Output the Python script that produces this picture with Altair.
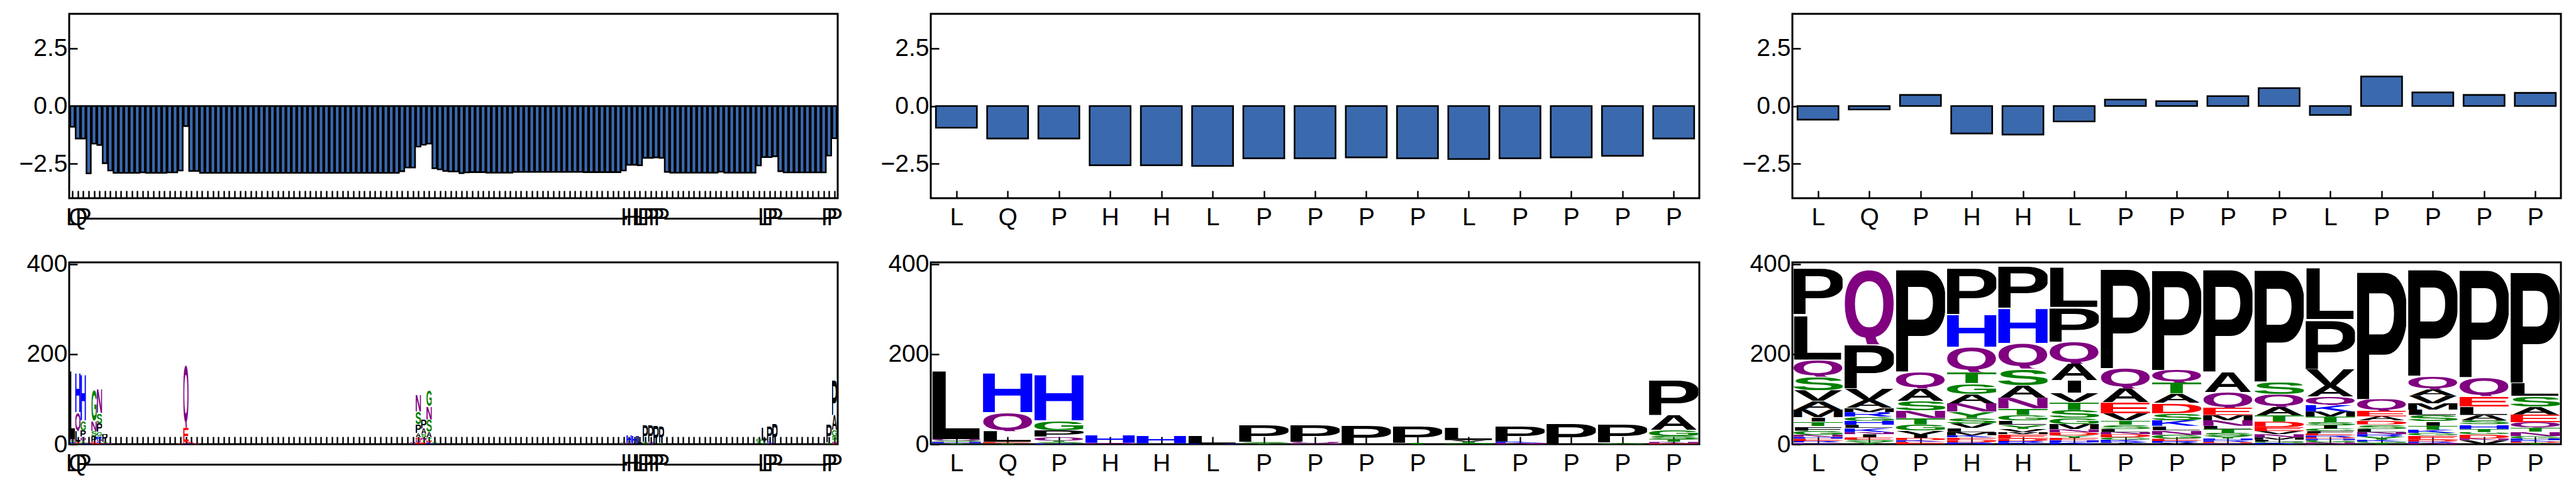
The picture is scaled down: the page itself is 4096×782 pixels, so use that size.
import json
import urllib.parse

import altair as alt
import pandas as pd

# ---------------- data ----------------
N_ALIGN = 142
RESIDUES = ["L", "Q", "P", "H", "H", "L", "P", "P", "P", "P", "L", "P", "P", "P", "P"]
RESIDUE_POS = [0, 1, 2, 103, 104, 105, 106, 107, 108, 109, 128, 129, 130, 140, 141]

# per alignment column score (top-left panel)
ALIGN_SCORES = [
    -0.90, -1.41, -1.41, -2.92, -1.63, -1.69, -2.48, -2.80, -2.90, -2.90,
    -2.90, -2.90, -2.90, -2.88, -2.90, -2.90, -2.90, -2.90, -2.88, -2.88,
    -2.80, -0.87, -2.82, -2.82, -2.90, -2.90, -2.90, -2.90, -2.90, -2.90,
    -2.90, -2.90, -2.90, -2.90, -2.90, -2.90, -2.90, -2.90, -2.90, -2.90,
    -2.90, -2.90, -2.90, -2.90, -2.90, -2.90, -2.90, -2.90, -2.90, -2.90,
    -2.90, -2.90, -2.90, -2.90, -2.90, -2.90, -2.90, -2.90, -2.90, -2.90,
    -2.90, -2.83, -2.67, -2.67, -1.76, -1.68, -1.63, -2.70, -2.75, -2.82,
    -2.84, -2.84, -2.91, -2.88, -2.87, -2.87, -2.87, -2.89, -2.89, -2.89,
    -2.89, -2.89, -2.86, -2.86, -2.86, -2.86, -2.86, -2.86, -2.86, -2.86,
    -2.86, -2.86, -2.86, -2.86, -2.86, -2.87, -2.87, -2.87, -2.87, -2.87,
    -2.87, -2.87, -2.80, -2.55, -2.55, -2.57, -2.25, -2.25, -2.23, -2.25,
    -2.86, -2.89, -2.89, -2.89, -2.89, -2.89, -2.89, -2.89, -2.89, -2.89,
    -2.85, -2.89, -2.89, -2.89, -2.89, -2.89, -2.89, -2.58, -2.22, -2.22,
    -2.18, -2.83, -2.88, -2.88, -2.88, -2.88, -2.88, -2.88, -2.88, -2.88,
    -2.15, -1.40,
]
# per residue scores (top-middle, top-right)
RESIDUE_SCORES = [-0.94, -1.41, -1.41, -2.57, -2.57, -2.60, -2.27, -2.27,
                  -2.23, -2.27, -2.30, -2.27, -2.23, -2.16, -1.41]
DIFF_SCORES = [-0.59, -0.15, 0.48, -1.19, -1.24, -0.67, 0.28, 0.21,
               0.43, 0.78, -0.39, 1.28, 0.59, 0.48, 0.57]

# logo columns, letters listed from top to bottom with their heights
LOGO_MID = [
    "L157 Q3 S3 H3 T2",
    "H90 Q42 L24 E3 T2",
    "H105 G22 P14 Q9 Y3 S3 K2",
    "H17 Q2 N1",
    "H16 A2",
    "L17 H1",
    "P37 S3 T2",
    "P37 Q3 N2",
    "P42",
    "P37 T3",
    "L30 V3 T3 S3",
    "P35 K3 N3",
    "P46",
    "P41 T2 S2",
    "P80 A33 G14 S7 T6 N3 E2",
]
LOGO_RIGHT = [
    "P104 L101 Q38 S30 V24 A19 M17 I10 T10 F10 G9 N5 H4 E5 R3 D2 K2",
    "Q172 P98 V26 A17 M10 R10 G9 H9 L7 K9 N5 I7 E5 S5 Y5",
    "P235 Q37 A28 S21 N17 T14 G14 V9 I7 D5 K4 E5",
    "P104 H73 Q56 T24 G24 A21 N19 Y14 S12 V10 L9 M7 K5 E6 D5 R4",
    "P94 H78 Q57 S37 A28 N24 T14 G12 L10 Y9 V7 M5 E10 D5 R4 K3",
    "L91 P77 Q49 A37 I28 V21 T17 S17 G14 M12 N7 D7 Y5 E5 H5 K4",
    "P228 Q45 A31 E24 V16 T10 S9 L7 N5 D7 G5 K4 R3 I3",
    "P230 Q28 T24 A21 D23 S16 K12 L10 N10 G9 E5 R4 V3",
    "P235 A45 Q35 E16 M12 N12 L7 T9 S7 Y5 H4 R4 D3 K2",
    "P257 S28 Q28 A19 T14 D12 E9 V7 N7 M5 L4 G3 K3",
    "L118 P111 V37 A24 Q19 K14 M12 T12 S7 I7 C6 F5 E5 R4 D3 H3 G5 N4",
    "P293 Q26 E12 A9 D9 S10 L7 N5 R5 Y7 K4 G3 T3",
    "P244 Q30 A14 V17 M14 L12 S14 I10 T9 K7 G5 E10 D4 R3 N3",
    "P245 Q42 E23 L19 A12 S9 H10 T7 G5 D9 N4 V9",
    "P253 L30 S24 A17 E17 Q12 T9 N10 G5 H4 K3 D3 Y3",
]
# alignment-wide logo: columns that are not residue positions
GAP_LOGO_POS = [3, 4, 5, 6, 7, 20, 21, 22, 23, 63, 64, 65, 66, 67, 102, 127, 139]
GAP_LOGO = [
    "Q2 R2",
    "G72 N23 S11 P12 E6",
    "N54 S24 P18 G10 R8 Q4 K3 D3",
    "P18 S3 Q2",
    "N2 Q2",
    "E2",
    "Q145 E32 D3 K2",
    "E3 K2",
    "D2",
    "Q3 N2",
    "N37 S28 P19 A10 D6 Q5 E4",
    "P20 A12 S8 N6 T5 E4",
    "G37 N30 S28 A12 T6 D5 K4",
    "S3 K2",
    "Q2 T2",
    "G8 S3 A2",
    "S2 Q2",
]

# ---------------- styling ----------------
FONT = "Liberation Sans"
FS = 39
BAR_FILL = "#3a69ae"
W = 1222
H_TOP = 293
H_BOT = 289

COLORS = {}
for c in "GSTYC":
    COLORS[c] = "#008000"
for c in "NQ":
    COLORS[c] = "#800080"
for c in "KRH":
    COLORS[c] = "#0000ff"
for c in "DE":
    COLORS[c] = "#ff0000"
for c in "PAWFLIMV":
    COLORS[c] = "#000000"

# approximate ink extents of bold sans capitals (1/100 em)
INK = {
    "A": (0, 72), "C": (4.4, 68), "D": (7.6, 67.6), "E": (7.6, 61.3),
    "F": (7.6, 56.1), "G": (4.4, 71.9), "H": (7.3, 64.9), "I": (6.4, 20.8),
    "K": (7.6, 73), "L": (7.6, 58), "M": (7.3, 76), "N": (7.6, 64.6),
    "P": (7.6, 62.3), "Q": (4, 74), "R": (7.6, 71.5), "S": (3.5, 62.1),
    "T": (2.2, 58.9), "V": (0, 66.7), "W": (0.4, 94), "Y": (0, 66.7),
}
E_W = INK["E"][1] - INK["E"][0]


def glyph_url(letter):
    x0, x1 = INK[letter]
    w = max(x1 - x0, E_W)
    cx = (x0 + x1) / 2
    if letter == "Q":
        y0, y1 = -73.5, 7
    elif letter in "CGS":
        y0, y1 = -73.5, 1.5
    else:
        y0, y1 = -71.8, 0
    svg = (
        '<svg xmlns="http://www.w3.org/2000/svg" viewBox="%.2f %.2f %.2f %.2f" '
        'preserveAspectRatio="none"><text x="0" y="0" font-family="Liberation Sans, Arial, sans-serif" '
        'font-weight="bold" font-size="100" fill="%s">%s</text></svg>'
        % (cx - w / 2, y0, w, y1 - y0, COLORS[letter], letter)
    )
    return "data:image/svg+xml;charset=utf-8," + urllib.parse.quote(svg, safe="")


def logo_frame(positions, columns):
    rows = []
    for pos, col in zip(positions, columns):
        base = 0.0
        for tok in col.split()[::-1]:
            letter, h = tok[0], float(tok[1:])
            rows.append({"pos": pos, "letter": letter, "y0": base, "y1": base + h,
                         "url": glyph_url(letter)})
            base += h
    return pd.DataFrame(rows)


def x_axis(values, labels):
    return alt.Axis(values=values, labelExpr="%s[round(datum.value)]" % json.dumps(labels),
                    offset=-12, tickSize=12, tickWidth=2.4, labelPadding=11,
                    labelAngle=0, title=None)


def y_axis(values, fmt):
    return alt.Axis(values=values, format=fmt, offset=-13, tickSize=13, tickWidth=2.5,
                    labelPadding=3, title=None)


align_labels = ["-"] * N_ALIGN
for p, r in zip(RESIDUE_POS, RESIDUES):
    align_labels[p] = r
res_index = list(range(len(RESIDUES)))

LONG_DOM = [-0.6, N_ALIGN - 0.4]
SHORT_DOM = [-0.5, len(RESIDUES) - 0.5]


def bar_panel(pos, vals, dom, labels):
    df = pd.DataFrame({"pos": pos, "val": vals})
    return (
        alt.Chart(df)
        .transform_calculate(x0="datum.pos - 0.4", x1="datum.pos + 0.4")
        .mark_rect(fill=BAR_FILL, stroke="black", strokeWidth=2.6)
        .encode(
            x=alt.X("x0:Q", scale=alt.Scale(domain=dom, nice=False, zero=False),
                    axis=x_axis(pos, labels)),
            x2="x1:Q",
            y=alt.Y("val:Q", scale=alt.Scale(domain=[-4, 4], nice=False),
                    axis=y_axis([-2.5, 0, 2.5], ".1f")),
            y2=alt.datum(0),
        )
        .properties(width=W, height=H_TOP)
    )


def logo_panel(df, ticks, dom, labels, half):
    return (
        alt.Chart(df)
        .transform_calculate(x0="datum.pos - %f" % half, x1="datum.pos + %f" % half)
        .mark_image(aspect=False)
        .encode(
            x=alt.X("x0:Q", scale=alt.Scale(domain=dom, nice=False, zero=False),
                    axis=x_axis(ticks, labels)),
            x2="x1:Q",
            y=alt.Y("y0:Q", scale=alt.Scale(domain=[0, 404], nice=False),
                    axis=y_axis([0, 200, 400], "d")),
            y2="y1:Q",
            url="url:N",
        )
        .properties(width=W, height=H_BOT)
    )


full_logo = logo_frame(RESIDUE_POS + GAP_LOGO_POS, LOGO_MID + GAP_LOGO)
mid_logo = logo_frame(res_index, LOGO_MID)
right_logo = logo_frame(res_index, LOGO_RIGHT)

p1 = bar_panel(list(range(N_ALIGN)), ALIGN_SCORES, LONG_DOM, align_labels)
p2 = bar_panel(res_index, RESIDUE_SCORES, SHORT_DOM, RESIDUES)
p3 = bar_panel(res_index, DIFF_SCORES, SHORT_DOM, RESIDUES)
p4 = logo_panel(full_logo, list(range(N_ALIGN)), LONG_DOM, align_labels, 0.5)
p5 = logo_panel(mid_logo, res_index, SHORT_DOM, RESIDUES, 0.48)
p6 = logo_panel(right_logo, res_index, SHORT_DOM, RESIDUES, 0.48)

chart = (
    alt.concat(p1, p2, p3, p4, p5, p6, columns=3,
               spacing={"row": 102, "column": 148}, bounds="flush")
    .properties(padding={"left": 20, "top": 12, "right": 5, "bottom": 5})
    .configure_view(stroke="black", strokeWidth=3)
    .configure_axis(labelFont=FONT, labelFontSize=FS, labelColor="black",
                    tickColor="black", domain=False, grid=False,
                    labelOverlap=False, labelFlush=False)
)

chart.save("out.html", embed_options={"renderer": "svg", "actions": False})
